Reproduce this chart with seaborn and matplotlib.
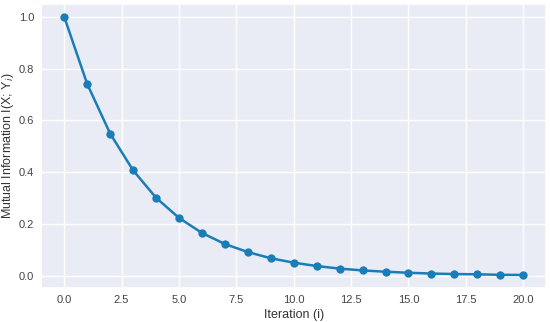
import numpy as np
import pandas as pd
import matplotlib
matplotlib.use("Agg")
import matplotlib.pyplot as plt
import seaborn as sns

# values
iterations = list(range(21))
mutual_info = [1.0, 0.741, 0.549, 0.407, 0.301, 0.223, 0.165, 0.122, 0.091, 0.067,
               0.050, 0.037, 0.027, 0.020, 0.015, 0.011, 0.008, 0.006, 0.005, 0.003, 0.0025]

sns.set_theme(style="darkgrid")
plt.rcParams['font.family'] = ['Liberation Sans', 'DejaVu Sans']

df = pd.DataFrame({"Iteration": iterations, "MI": mutual_info})

fig, ax = plt.subplots(figsize=(5.5, 3.22), dpi=100)
ax.set_facecolor("#E9ECF4")
sns.lineplot(data=df, x="Iteration", y="MI", marker="o", color="#1a7db8",
             linewidth=1.8, markersize=6, markeredgewidth=0, ax=ax)

ax.set_xlabel("Iteration (i)", fontsize=9, labelpad=3, color="#333333")
ax.set_ylabel("Mutual Information I(X; Y$_i$)", fontsize=9, labelpad=2, color="#333333")
ax.tick_params(axis="x", length=0, labelsize=8, colors="#444444", pad=5)
ax.tick_params(axis="y", length=0, labelsize=8, colors="#444444", pad=5)
ax.set_xticks([0, 2.5, 5, 7.5, 10, 12.5, 15, 17.5, 20])
ax.set_yticks([0, 0.2, 0.4, 0.6, 0.8, 1.0])
ax.grid(color="white", linewidth=1.0)

fig.subplots_adjust(left=0.075, right=0.993, bottom=0.106, top=0.988)
fig.savefig("out.png", dpi=100)
